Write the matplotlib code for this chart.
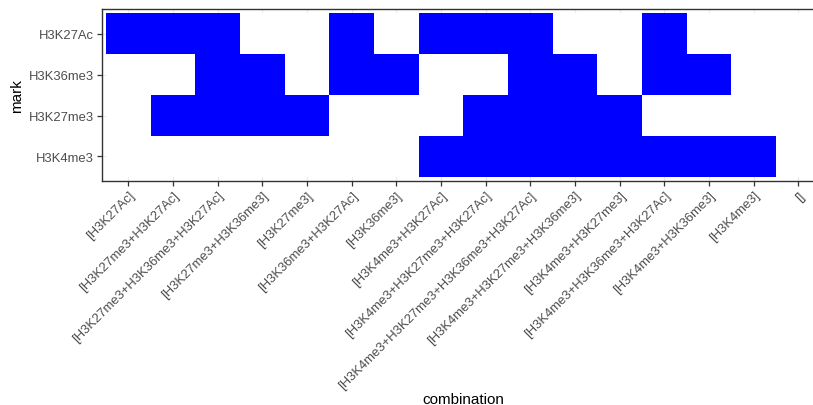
import numpy as np
import matplotlib
matplotlib.use("Agg")
import matplotlib.pyplot as plt
from matplotlib.colors import ListedColormap

plt.rcParams['font.family'] = ['Liberation Sans', 'DejaVu Sans']

combinations = [
    "[H3K27Ac]",
    "[H3K27me3+H3K27Ac]",
    "[H3K27me3+H3K36me3+H3K27Ac]",
    "[H3K27me3+H3K36me3]",
    "[H3K27me3]",
    "[H3K36me3+H3K27Ac]",
    "[H3K36me3]",
    "[H3K4me3+H3K27Ac]",
    "[H3K4me3+H3K27me3+H3K27Ac]",
    "[H3K4me3+H3K27me3+H3K36me3+H3K27Ac]",
    "[H3K4me3+H3K27me3+H3K36me3]",
    "[H3K4me3+H3K27me3]",
    "[H3K4me3+H3K36me3+H3K27Ac]",
    "[H3K4me3+H3K36me3]",
    "[H3K4me3]",
    "[]",
]
marks = ["H3K4me3", "H3K27me3", "H3K36me3", "H3K27Ac"]  # bottom to top

# presence (1) / absence (0) per mark across the combinations
h3k4me3 = [0, 0, 0, 0, 0, 0, 0, 1, 1, 1, 1, 1, 1, 1, 1, 0]
h3k27me3 = [0, 1, 1, 1, 1, 0, 0, 0, 1, 1, 1, 1, 0, 0, 0, 0]
h3k36me3 = [0, 0, 1, 1, 0, 1, 1, 0, 0, 1, 1, 0, 1, 1, 0, 0]
h3k27ac = [1, 1, 1, 0, 0, 1, 0, 1, 1, 1, 0, 0, 1, 0, 0, 0]

z = np.array([h3k4me3, h3k27me3, h3k36me3, h3k27ac])

W, H = 813, 406
fig = plt.figure(figsize=(W / 100, H / 100), dpi=100)
x0, x1 = 101.5, 825.1
ytop, ybot = 10.3, 182.0
ax = fig.add_axes([x0 / W, (H - ybot) / H, (x1 - x0) / W, (ybot - ytop) / H])

nx, ny = len(combinations), len(marks)
xe = np.arange(nx + 1) + 0.5
ye = np.arange(ny + 1) + 0.5
ax.pcolormesh(xe, ye, z, cmap=ListedColormap(["white", "#0000FF"]),
              vmin=0, vmax=1, zorder=2)

ax.set_xlim(0.4, nx + 0.6)
ax.set_ylim(0.4, ny + 0.6)
ax.set_xticks(np.arange(1, nx + 1))
ax.set_xticklabels(combinations, rotation=45, ha='right', va='top',
                   rotation_mode='anchor')
ax.set_yticks(np.arange(1, ny + 1))
ax.set_yticklabels(marks)

ax.grid(True, color='#EBEBEB', linewidth=0.8, zorder=0)
ax.set_axisbelow(True)
for s in ax.spines.values():
    s.set_color('#333333')
    s.set_linewidth(1.0)
    s.set_zorder(3)

ax.tick_params(axis='both', colors='#333333', length=3.5, width=0.9,
               labelsize=9.4, labelcolor='#4D4D4D', pad=2.2)

ax.set_xlabel("combination", fontsize=11)
ax.xaxis.set_label_coords(0.5, -(400 - ybot) / (ybot - ytop))
ax.xaxis.label.set_va('center')
ax.set_ylabel("mark", fontsize=11)
ax.yaxis.set_label_coords(-(x0 - 17) / (x1 - x0), 0.5)
ax.yaxis.label.set_va('center')

fig.savefig("out.png", dpi=100)
